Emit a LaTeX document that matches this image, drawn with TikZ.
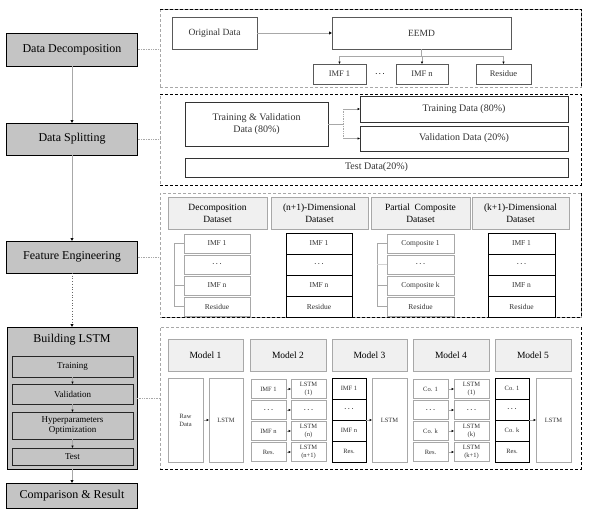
\documentclass[tikz,border=0pt]{standalone}
\usepackage{fontspec}
\setmainfont{Liberation Serif}
\usepackage{tikz}
\usetikzlibrary{arrows.meta}
\definecolor{boxgray}{HTML}{C4C4C4}
\definecolor{headgray}{HTML}{F0F0F0}
\definecolor{linegray}{HTML}{A8A8A8}
\newcommand{\ddd}{{\fontsize{4.5}{5}\selectfont\textbullet\hspace{2pt}\textbullet\hspace{2pt}\textbullet}}

\begin{document}
\begin{tikzpicture}[x=1pt,y=-1pt]
        \tikzstyle{every node}+=[inner sep=0pt, outer sep=0pt, align=center]
        \tikzstyle{mainbox}=[draw=black, line width=1pt, fill=boxgray, minimum width=131, minimum height=32, font=\fontsize{12}{14}\selectfont]
        \tikzstyle{stepbox}=[draw=black!85, line width=1pt, fill=boxgray, minimum width=121, font=\fontsize{9}{10.5}\selectfont]
        \tikzstyle{panel}=[draw=linegray, dash pattern=on 3pt off 2pt, line width=0.8pt, minimum width=421]
        \tikzstyle{pedge}=[draw=black, dash pattern=on 3pt off 2pt, line width=0.8pt]
        \tikzstyle{cell}=[draw=black!65, line width=0.8pt, fill=white, text=black!80]
        \tikzstyle{gcell}=[draw=linegray, line width=0.8pt, fill=white, text=black!80]
        \tikzstyle{kcell}=[draw=black, line width=0.8pt, fill=white, text=black!80]
        \tikzstyle{head}=[draw=linegray, line width=0.8pt, fill=headgray]
        \tikzstyle{arr}=[draw=linegray, line width=0.7pt, -{Latex[length=3pt,width=3.5pt,color=black]}]
        \tikzstyle{sarr}=[draw=linegray, line width=0.6pt, -{Latex[length=2.5pt,width=2.5pt,color=black]}]
        \tikzstyle{link}=[draw=linegray, densely dotted, line width=0.7pt]
        \tikzstyle{brk}=[draw=linegray, line width=0.7pt]
        \useasboundingbox (0,0) rectangle (606,525);

        \node[panel, minimum height=78] (p1) at (370.5,48) {};
        \node[panel, minimum height=91] (p2) at (370.5,139.5) {};
        \node[panel, minimum height=124] (p3) at (370.5,255) {};
        \node[panel, minimum height=142] (p4) at (370.5,398) {};
        \draw[pedge] (p1.north west) -- (p1.north east) -- (p1.south east);
        \draw[pedge] (p2.north west) -- (p2.north east) -- (p2.south east) -- (p2.south west);
        \draw[pedge] (p3.north east) -- (p3.south east) -- (p3.south west);
        \draw[pedge] (p4.north east) -- (p4.south east) -- (p4.south west);

        \node[mainbox, minimum height=33] (dd) at (72,49.5) {Data Decomposition};
        \node[mainbox] (ds) at (72,139) {Data Splitting};
        \node[mainbox] (fe) at (72,257) {Feature Engineering};
        \node[mainbox, minimum width=130, minimum height=142] (bl) at (72,398) {};
        \node[font=\fontsize{12}{14}\selectfont] (blt) at (72,340) {Building LSTM};
        \node[stepbox, minimum height=21] (tr) at (72.5,366.5) {Training};
        \node[stepbox, minimum height=20] (va) at (72.5,394) {Validation};
        \node[stepbox, minimum height=27] (hp) at (72.5,425.5) {Hyperparameters\\Optimization};
        \node[stepbox, minimum height=17] (te) at (72.5,456.5) {Test};
        \node[mainbox, minimum height=25] (cr) at (72,495.5) {Comparison \& Result};
        \draw[arr] (dd) -- (ds);
        \draw[arr] (ds) -- (fe);
        \draw[arr, draw=black!60, dotted, line width=0.6pt] (fe) -- (bl);
        \draw[arr] (bl) -- (cr);
        \draw[sarr] (tr) -- (va);
        \draw[sarr] (va) -- (hp);
        \draw[sarr] (hp) -- (te);
        \draw[link] (dd.east) -- (dd.east -| p1.west);
        \draw[link] (ds.east) -- (ds.east -| p2.west);
        \draw[link] (fe.east) -- (fe.east -| p3.west);
        \draw[link] (bl.east) -- (bl.east -| p4.west);

        \node[cell, minimum width=85, minimum height=32, font=\fontsize{9.5}{11}\selectfont] (od) at (214.5,33) {Original Data};
        \node[cell, minimum width=179, minimum height=32, font=\fontsize{9.5}{11}\selectfont] (eemd) at (421.5,33) {EEMD};
        \node[cell, minimum width=53, minimum height=20, font=\fontsize{8.5}{10}\selectfont] (imfa) at (339.5,74) {IMF 1};
        \node[font=\fontsize{6}{7}\selectfont] (dots) at (380,74.5) {\ddd};
        \node[cell, minimum width=52, minimum height=20, font=\fontsize{8.5}{10}\selectfont] (imfn) at (422,74) {IMF n};
        \node[cell, minimum width=55, minimum height=20, font=\fontsize{8.5}{10}\selectfont] (resd) at (503.5,74) {Residue};
        \draw[arr] (od) -- (eemd);
        \draw[brk] (eemd.south) -- ++(0,7) coordinate (split);
        \draw[brk] (split -| imfa) -- (split -| resd);
        \draw[sarr] (split -| imfa) -- (imfa.north);
        \draw[sarr] (split -| imfn) -- (imfn.north);
        \draw[sarr] (split -| resd) -- (resd.north);

        \node[cell, draw=black!80, minimum width=143, minimum height=44, font=\fontsize{10}{12}\selectfont] (tv) at (256.5,124) {Training \& Validation\\Data (80\%)};
        \node[cell, draw=black!80, minimum width=208, minimum height=26, font=\fontsize{10}{12}\selectfont] (trd) at (464,109) {Training Data (80\%)};
        \node[cell, draw=black!80, minimum width=208, minimum height=25, font=\fontsize{10}{12}\selectfont] (vad) at (464,138.5) {Validation Data (20\%)};
        \node[cell, draw=black!80, minimum width=383, minimum height=19, font=\fontsize{10}{12}\selectfont] (tsd) at (376.5,167.5) {Test Data(20\%)};
        \draw[brk] (tv.east) -- ++(15,0) coordinate (fork);
        \draw[brk, densely dotted] (fork |- trd) -- (fork |- vad);
        \draw[sarr] (fork |- trd) -- (trd.west);
        \draw[sarr] (fork |- vad) -- (vad.west);

        \node[head, minimum width=99, minimum height=32, font=\fontsize{9.5}{12}\selectfont] (hdec) at (217.5,213) {Decomposition\\Dataset};
        \node[head, minimum width=97, minimum height=32, font=\fontsize{9.5}{12}\selectfont] (hndim) at (319.5,213) {(n+1)-Dimensional\\Dataset};
        \node[head, minimum width=99, minimum height=32, font=\fontsize{9.5}{12}\selectfont] (hpc) at (420.5,213) {Partial\ \ Composite\\Dataset};
        \node[head, minimum width=97, minimum height=32, font=\fontsize{9.5}{12}\selectfont] (hkdim) at (520.5,213) {(k+1)-Dimensional\\Dataset};
        \foreach \lbl [count=\i] in {IMF 1, \ddd, IMF n, Residue} {
            \node[gcell, minimum width=66, minimum height=19, font=\fontsize{7.5}{9}\selectfont] (dec\i) at (217,222.5+21*\i) {\lbl};
            \node[kcell, minimum width=66, minimum height=21, font=\fontsize{7.5}{9}\selectfont] (ndim\i) at (319,222.5+21*\i) {\lbl};
            \node[kcell, minimum width=67, minimum height=21, font=\fontsize{7.5}{9}\selectfont] (kdim\i) at (521.5,222.5+21*\i) {\lbl};
        }
        \foreach \lbl [count=\i] in {Composite 1, \ddd, Composite k, Residue}
            \node[gcell, minimum width=67, minimum height=19, font=\fontsize{7.5}{9}\selectfont] (pc\i) at (420.5,222.5+21*\i) {\lbl};
        \draw[brk] (dec1.west) -- ++(-10,0) |- (dec4.west);
        \draw[brk] (dec3.west) -- ++(-10,0);
        \draw[brk] (pc1.west) -- ++(-10,0) |- (pc4.west);
        \draw[brk] (pc3.west) -- ++(-10,0);
        \draw[brk, draw=linegray!50] (pc2.west) -- ++(-10,0);

        \foreach \lbl/\px/\mw [count=\i] in {Model 1/205.5/75, Model 2/288/76, Model 3/369.5/75, Model 4/451/76, Model 5/533/76}
            \node[head, minimum width=\mw, minimum height=32, font=\fontsize{9.5}{11}\selectfont] (m\i) at (\px,355) {\lbl};
        \node[gcell, minimum width=35, minimum height=84, font=\fontsize{6.5}{8}\selectfont] (raw) at (185.5,420) {Raw\\Data};
        \node[gcell, minimum width=34, minimum height=84, font=\fontsize{6.5}{8}\selectfont] (lstma) at (226,420) {LSTM};
        \draw[sarr] (raw) -- (lstma);
        \foreach \la/\lb [count=\i] in {IMF 1/LSTM\\(1), \ddd/\ddd, IMF n/LSTM\\(n), Res./LSTM\\(n+1)} {
            \node[gcell, minimum width=35, minimum height=19.5, font=\fontsize{6.5}{7.5}\selectfont] (mtl\i) at (268.5,368+21*\i) {\la};
            \node[gcell, minimum width=35, minimum height=19.5, font=\fontsize{6.5}{7.5}\selectfont] (mtr\i) at (308.5,368+21*\i) {\lb};
            \draw[sarr] (mtl\i) -- (mtr\i);
        }
        \foreach \la/\lb [count=\i] in {Co. 1/LSTM\\(1), \ddd/\ddd, Co. k/LSTM\\(k), Res./LSTM\\(k+1)} {
            \node[gcell, minimum width=35, minimum height=19.5, font=\fontsize{6.5}{7.5}\selectfont] (mfl\i) at (430.5,368+21*\i) {\la};
            \node[gcell, minimum width=35, minimum height=19.5, font=\fontsize{6.5}{7.5}\selectfont] (mfr\i) at (471.5,368+21*\i) {\lb};
            \draw[sarr] (mfl\i) -- (mfr\i);
        }
        \foreach \lbl [count=\i] in {IMF 1, \ddd, IMF n, Res.}
            \node[kcell, minimum width=34, minimum height=21, font=\fontsize{6.5}{7.5}\selectfont] (mth\i) at (349,367.5+21*\i) {\lbl};
        \foreach \lbl [count=\i] in {Co. 1, \ddd, Co. k, Res.}
            \node[kcell, minimum width=34, minimum height=21, font=\fontsize{6.5}{7.5}\selectfont] (mfv\i) at (512,367.5+21*\i) {\lbl};
        \node[gcell, minimum width=35, minimum height=84, font=\fontsize{6.5}{8}\selectfont] (lstmc) at (389.5,420) {LSTM};
        \node[gcell, minimum width=35, minimum height=84, font=\fontsize{6.5}{8}\selectfont] (lstme) at (553.5,420) {LSTM};
        \draw[sarr] (mth2.south east) -- (lstmc.west);
        \draw[sarr] (mfv2.south east) -- (lstme.west);
\end{tikzpicture}
\end{document}
